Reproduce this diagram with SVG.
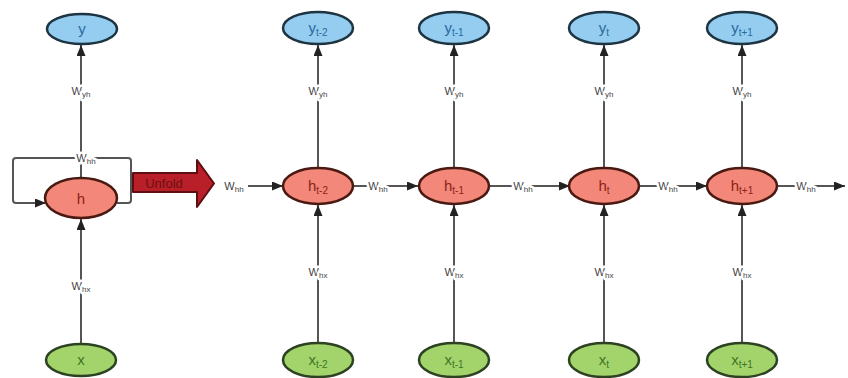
<svg xmlns="http://www.w3.org/2000/svg" width="848" height="378" viewBox="0 0 848 378">
<defs>
<marker id="ah" markerUnits="userSpaceOnUse" markerWidth="12" markerHeight="10" refX="11" refY="4.5" orient="auto">
<path d="M0,0 L11,4.5 L0,9 z" fill="#222"/>
</marker>
<style>
.edge{fill:none;stroke:#555;stroke-width:2}
.lbl{font-family:"Liberation Sans",Arial,sans-serif;font-size:11px;fill:#444;text-anchor:middle;stroke:#fff;stroke-width:5;paint-order:stroke;stroke-linejoin:round}
.sub{font-size:8px}
.ny{fill:#94cdf0;stroke:#1e3442;stroke-width:2.5}
.nh{fill:#f3887a;stroke:#4a1a12;stroke-width:2.5}
.nx{fill:#a3d46c;stroke:#2c4220;stroke-width:2.5}
.t{font-family:"Liberation Sans",Arial,sans-serif;font-size:15px;text-anchor:middle}
.ty{fill:#2a6a9c}
.th{fill:#8a2418}
.tx{fill:#3f7424}
.ts{font-size:10px}
</style>
</defs>
<rect width="848" height="378" fill="#fff"/>

<g id="connectors">
<!-- folded -->
<line class="edge" x1="81" y1="178" x2="81" y2="45" marker-end="url(#ah)"/>
<line class="edge" x1="81" y1="343" x2="81" y2="219" marker-end="url(#ah)"/>
<path class="edge" d="M117,203 H128 Q131,203 131,200 V161 Q131,158 128,158 H16 Q13,158 13,161 V200 Q13,203 16,203 H46" marker-end="url(#ah)"/>
<text class="lbl" x="86" y="162">W<tspan class="sub" dy="2">hh</tspan></text>
<text class="lbl" x="81" y="95">W<tspan class="sub" dy="2">yh</tspan></text>
<text class="lbl" x="81" y="290">W<tspan class="sub" dy="2">hx</tspan></text>

<!-- horizontal -->
<line class="edge" x1="248" y1="186" x2="283" y2="186" marker-end="url(#ah)"/>
<text x="234" y="190" font-family="Liberation Sans, Arial, sans-serif" font-size="11" fill="#444" text-anchor="middle">W<tspan class="sub" dy="2">hh</tspan></text>
<line class="edge" x1="353" y1="186" x2="418" y2="186" marker-end="url(#ah)"/>
<text class="lbl" x="378" y="190">W<tspan class="sub" dy="2">hh</tspan></text>
<line class="edge" x1="490" y1="186" x2="570" y2="186" marker-end="url(#ah)"/>
<text class="lbl" x="523" y="190">W<tspan class="sub" dy="2">hh</tspan></text>
<line class="edge" x1="640" y1="186" x2="707" y2="186" marker-end="url(#ah)"/>
<text class="lbl" x="668" y="190">W<tspan class="sub" dy="2">hh</tspan></text>
<line class="edge" x1="777" y1="186" x2="845" y2="186" marker-end="url(#ah)"/>
<text class="lbl" x="806" y="190">W<tspan class="sub" dy="2">hh</tspan></text>

<!-- vertical columns -->
<line class="edge" x1="318" y1="168" x2="318" y2="45" marker-end="url(#ah)"/>
<line class="edge" x1="318" y1="343" x2="318" y2="205" marker-end="url(#ah)"/>
<text class="lbl" x="318" y="95">W<tspan class="sub" dy="2">yh</tspan></text>
<text class="lbl" x="318" y="276">W<tspan class="sub" dy="2">hx</tspan></text>

<line class="edge" x1="454" y1="168" x2="454" y2="45" marker-end="url(#ah)"/>
<line class="edge" x1="454" y1="343" x2="454" y2="205" marker-end="url(#ah)"/>
<text class="lbl" x="454" y="95">W<tspan class="sub" dy="2">yh</tspan></text>
<text class="lbl" x="454" y="276">W<tspan class="sub" dy="2">hx</tspan></text>

<line class="edge" x1="604" y1="168" x2="604" y2="45" marker-end="url(#ah)"/>
<line class="edge" x1="604" y1="343" x2="604" y2="205" marker-end="url(#ah)"/>
<text class="lbl" x="604" y="95">W<tspan class="sub" dy="2">yh</tspan></text>
<text class="lbl" x="604" y="276">W<tspan class="sub" dy="2">hx</tspan></text>

<line class="edge" x1="742" y1="168" x2="742" y2="45" marker-end="url(#ah)"/>
<line class="edge" x1="742" y1="343" x2="742" y2="205" marker-end="url(#ah)"/>
<text class="lbl" x="742" y="95">W<tspan class="sub" dy="2">yh</tspan></text>
<text class="lbl" x="742" y="276">W<tspan class="sub" dy="2">hx</tspan></text>
</g>

<g id="unfold">
<path d="M133,173 H197 V160 L214,183.5 L197,207 V192 H133 z" fill="#b81f28" stroke="#5e0d10" stroke-width="2" stroke-linejoin="round"/>
<text x="164" y="188" font-family="Liberation Sans, Arial, sans-serif" font-size="13" fill="#6e1010" text-anchor="middle">Unfold</text>
</g>

<g id="node-y">
<ellipse class="ny" cx="82" cy="29" rx="35" ry="15"/>
<text class="t ty" x="82" y="34" font-size="13">y</text>
</g>
<g id="node-h">
<ellipse class="nh" cx="81" cy="198" rx="36" ry="20"/>
<text class="t th" x="81" y="204">h</text>
</g>
<g id="node-x">
<ellipse class="nx" cx="81" cy="360" rx="35" ry="16"/>
<text class="t tx" x="81" y="365">x</text>
</g>

<g id="node-y-t-2">
<ellipse class="ny" cx="318" cy="28" rx="35" ry="16"/>
<text class="t ty" x="318" y="33">y<tspan class="ts" dy="3">t-2</tspan></text>
</g>
<g id="node-y-t-1">
<ellipse class="ny" cx="454" cy="28" rx="35" ry="16"/>
<text class="t ty" x="454" y="33">y<tspan class="ts" dy="3">t-1</tspan></text>
</g>
<g id="node-y-t">
<ellipse class="ny" cx="604" cy="28" rx="35" ry="16"/>
<text class="t ty" x="604" y="33">y<tspan class="ts" dy="3">t</tspan></text>
</g>
<g id="node-y-t1">
<ellipse class="ny" cx="742" cy="28" rx="35" ry="16"/>
<text class="t ty" x="742" y="33">y<tspan class="ts" dy="3">t+1</tspan></text>
</g>

<g id="node-h-t-2">
<ellipse class="nh" cx="318" cy="186" rx="35" ry="18"/>
<text class="t th" x="318" y="191">h<tspan class="ts" dy="3">t-2</tspan></text>
</g>
<g id="node-h-t-1">
<ellipse class="nh" cx="454" cy="186" rx="35" ry="18"/>
<text class="t th" x="454" y="191">h<tspan class="ts" dy="3">t-1</tspan></text>
</g>
<g id="node-h-t">
<ellipse class="nh" cx="604" cy="186" rx="35" ry="18"/>
<text class="t th" x="604" y="191">h<tspan class="ts" dy="3">t</tspan></text>
</g>
<g id="node-h-t1">
<ellipse class="nh" cx="742" cy="186" rx="35" ry="18"/>
<text class="t th" x="742" y="191">h<tspan class="ts" dy="3">t+1</tspan></text>
</g>

<g id="node-x-t-2">
<ellipse class="nx" cx="318" cy="360" rx="35" ry="17"/>
<text class="t tx" x="318" y="365">x<tspan class="ts" dy="3">t-2</tspan></text>
</g>
<g id="node-x-t-1">
<ellipse class="nx" cx="454" cy="360" rx="35" ry="17"/>
<text class="t tx" x="454" y="365">x<tspan class="ts" dy="3">t-1</tspan></text>
</g>
<g id="node-x-t">
<ellipse class="nx" cx="604" cy="360" rx="35" ry="17"/>
<text class="t tx" x="604" y="365">x<tspan class="ts" dy="3">t</tspan></text>
</g>
<g id="node-x-t1">
<ellipse class="nx" cx="742" cy="360" rx="35" ry="17"/>
<text class="t tx" x="742" y="365">x<tspan class="ts" dy="3">t+1</tspan></text>
</g>
</svg>
